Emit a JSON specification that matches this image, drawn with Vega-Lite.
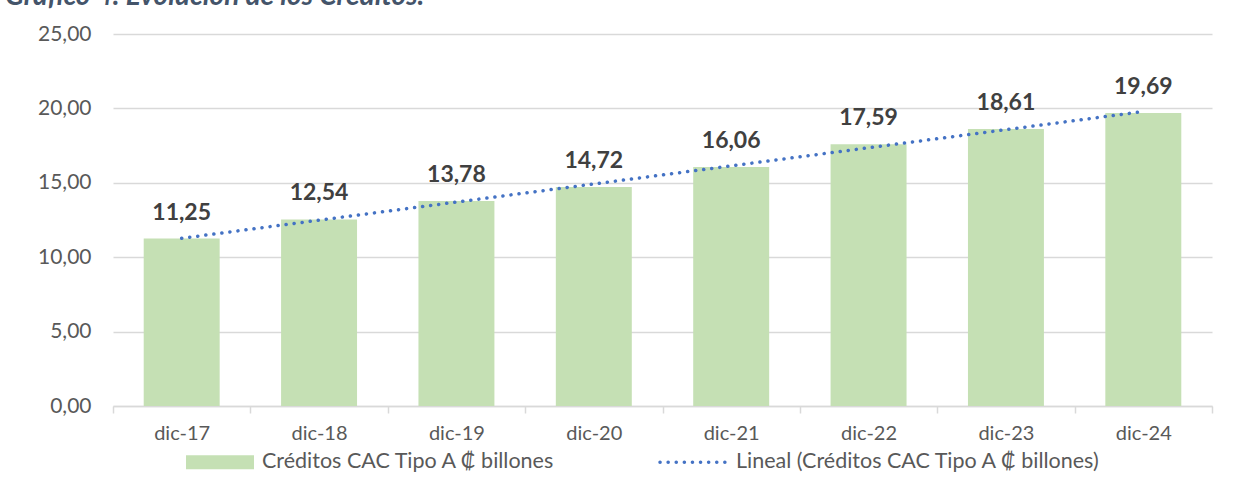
{
  "$schema": "https://vega.github.io/schema/vega-lite/v6.json",
  "width": 1099,
  "height": 372,
  "autosize": {"type": "none"},
  "padding": {"left": 113, "top": 34, "right": 25, "bottom": 89},
  "background": "white",
  "config": {
    "locale": {"number": {"decimal": ",", "thousands": ".", "grouping": [3], "currency": ["", " ₡"]}},
    "font": "Lato",
    "view": {"stroke": null}
  },
  "title": {
    "text": "Gráfico 4. Evolución de los Créditos.",
    "anchor": "start",
    "frame": "group",
    "orient": "top",
    "dx": -108,
    "offset": -10,
    "baseline": "alphabetic",
    "fontSize": 28,
    "fontStyle": "italic",
    "fontWeight": "bold",
    "color": "#44546A",
    "font": "Lato"
  },
  "data": {
    "values": [
      {"anio": 2017, "valor": 11.25, "serie": "Créditos CAC Tipo A ₡ billones"},
      {"anio": 2018, "valor": 12.54, "serie": "Créditos CAC Tipo A ₡ billones"},
      {"anio": 2019, "valor": 13.78, "serie": "Créditos CAC Tipo A ₡ billones"},
      {"anio": 2020, "valor": 14.72, "serie": "Créditos CAC Tipo A ₡ billones"},
      {"anio": 2021, "valor": 16.06, "serie": "Créditos CAC Tipo A ₡ billones"},
      {"anio": 2022, "valor": 17.59, "serie": "Créditos CAC Tipo A ₡ billones"},
      {"anio": 2023, "valor": 18.61, "serie": "Créditos CAC Tipo A ₡ billones"},
      {"anio": 2024, "valor": 19.69, "serie": "Créditos CAC Tipo A ₡ billones"}
    ]
  },
  "layer": [
    {
      "mark": {"type": "bar", "width": {"band": 0.553}},
      "encoding": {
        "x": {
          "field": "anio",
          "type": "ordinal",
          "scale": {"paddingInner": 0, "paddingOuter": 0},
          "axis": {
            "title": null,
            "labelExpr": "datum.label ? 'dic-' + slice(datum.label, 2) : ''",
            "labelAngle": 0,
            "labelFontSize": 20,
            "labelColor": "#595959",
            "labelFont": "Lato",
            "domainColor": "#D9D9D9",
            "domainWidth": 1.5,
            "tickColor": "#D9D9D9",
            "tickWidth": 1.5,
            "tickSize": 7,
            "tickBand": "extent",
            "labelPadding": 10,
            "grid": false
          }
        },
        "y": {
          "field": "valor",
          "type": "quantitative",
          "scale": {"domain": [0, 25], "nice": false},
          "axis": {
            "title": null,
            "values": [0, 5, 10, 15, 20, 25],
            "format": ".2f",
            "labelFontSize": 21,
            "labelFont": "Lato",
            "labelColor": "#595959",
            "domain": false,
            "ticks": false,
            "labelPadding": 22,
            "gridColor": "#D9D9D9",
            "gridWidth": 1.5
          }
        },
        "color": {
          "field": "serie",
          "type": "nominal",
          "scale": {
            "domain": ["Créditos CAC Tipo A ₡ billones", "Lineal (Créditos CAC Tipo A ₡ billones)"],
            "range": ["#C5E0B4", "#4472C4"]
          },
          "legend": {
            "orient": "none",
            "legendX": 71,
            "legendY": 392,
            "direction": "horizontal",
            "title": null,
            "labelFontSize": 21.5,
            "labelFont": "Lato",
            "labelColor": "#595959",
            "labelLimit": 600,
            "symbolSize": 4624,
            "labelOffset": 6,
            "columnPadding": 97,
            "padding": 0,
            "symbolType": "M-1,-0.206H1V0.206H-1Z",
            "encode": {
              "symbols": {
                "update": {
                  "shape": {"signal": "datum.index === 0 ? 'M-1,-0.206H1V0.206H-1Z' : 'M-1,0H1'"},
                  "fill": {"signal": "datum.index === 0 ? '#C5E0B4' : 'transparent'"},
                  "stroke": {"signal": "datum.index === 0 ? '#C5E0B4' : '#4472C4'"},
                  "strokeWidth": {"value": 3.5},
                  "strokeOpacity": {"signal": "datum.index === 0 ? 0 : 1"},
                  "strokeDash": {"value": [0.1, 8]},
                  "strokeCap": {"value": "round"},
                  "opacity": {"value": 1}
                }
              }
            }
          }
        }
      }
    },
    {
      "mark": {"type": "text", "fontWeight": "bold", "fontSize": 23, "color": "#404040", "baseline": "alphabetic", "dy": -19, "font": "Lato"},
      "encoding": {
        "x": {"field": "anio", "type": "ordinal"},
        "y": {"field": "valor", "type": "quantitative"},
        "text": {"field": "valor", "type": "quantitative", "format": ".2f"}
      }
    },
    {
      "transform": [{"regression": "valor", "on": "anio"}],
      "mark": {"type": "line", "strokeDash": [0.1, 8], "strokeCap": "round", "strokeWidth": 3.5},
      "encoding": {
        "x": {"field": "anio", "type": "ordinal"},
        "y": {"field": "valor", "type": "quantitative"},
        "color": {"datum": "Lineal (Créditos CAC Tipo A ₡ billones)"}
      }
    }
  ]
}
